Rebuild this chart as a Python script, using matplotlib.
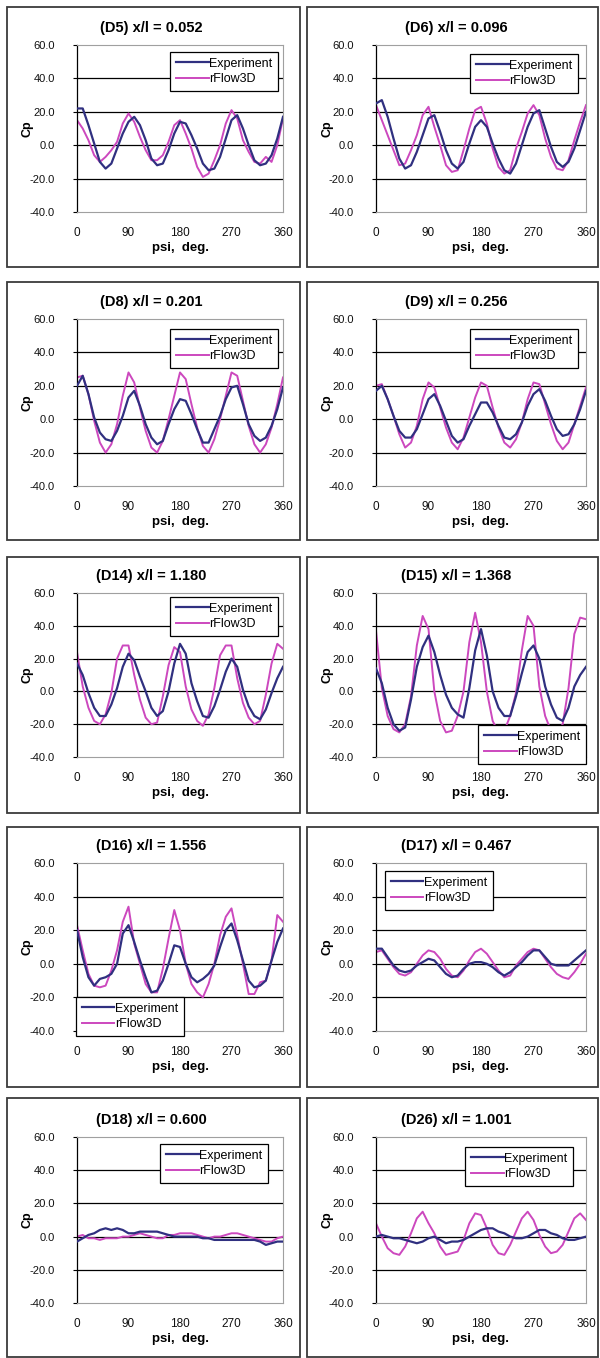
import matplotlib
matplotlib.use("Agg")
import matplotlib.pyplot as plt
from matplotlib.patches import Rectangle
import numpy as np

plt.rcParams['font.family'] = ['Liberation Sans', 'DejaVu Sans']

# ---------------- data ----------------
PSI = list(range(0, 361, 10))

TITLES = ["(D5) x/l = 0.052", "(D6) x/l = 0.096",
          "(D8) x/l = 0.201", "(D9) x/l = 0.256",
          "(D14) x/l = 1.180", "(D15) x/l = 1.368",
          "(D16) x/l = 1.556", "(D17) x/l = 0.467",
          "(D18) x/l = 0.600", "(D26) x/l = 1.001"]

SERIES_NAMES = ["Experiment", "rFlow3D"]
Y_TICKS = [-40, -20, 0, 20, 40, 60]
X_TICKS = [0, 90, 180, 270, 360]

D5_EXP = [22, 22, 12, 1, -10, -14, -11, -2, 7, 14, 17, 12, 3, -8, -12, -11, -3, 7, 14,
          13, 6, -2, -11, -15, -14, -7, 4, 15, 18, 10, 0, -9, -12, -11, -6, 4, 17]
D5_CFD = [15, 10, 3, -6, -10, -7, -3, 2, 13, 19, 14, 5, -3, -9, -9, -6, 2, 12, 15,
          7, -2, -13, -19, -17, -9, 0, 13, 21, 16, 3, -4, -10, -11, -7, -10, 0, 16]

D6_EXP = [25, 27, 17, 4, -8, -14, -12, -4, 6, 16, 18, 8, -3, -11, -14, -10, 1, 11, 15,
          11, 1, -8, -15, -17, -11, 0, 11, 19, 21, 10, -1, -10, -13, -10, -2, 9, 20]
D6_CFD = [24, 15, 6, -3, -12, -11, -3, 6, 18, 23, 11, 0, -12, -16, -15, -3, 10, 21, 23,
          13, -2, -13, -17, -15, -2, 8, 19, 24, 18, 4, -7, -14, -15, -9, 3, 14, 24]

D8_EXP = [20, 26, 15, 1, -8, -12, -13, -7, 2, 13, 17, 8, -3, -11, -15, -13, -3, 6, 12,
          11, 3, -6, -14, -14, -6, 2, 12, 19, 20, 9, -3, -10, -13, -11, -4, 6, 19]
D8_CFD = [25, 26, 15, -1, -14, -20, -15, -3, 14, 28, 22, 7, -7, -17, -20, -13, 0, 14, 28,
          24, 9, -5, -16, -20, -12, 0, 14, 28, 26, 11, -4, -15, -20, -15, -5, 9, 25]

D9_EXP = [17, 20, 12, 2, -7, -11, -11, -6, 3, 12, 15, 8, -1, -10, -14, -12, -4, 3, 10,
          10, 4, -4, -11, -12, -9, -2, 8, 15, 18, 11, 2, -6, -10, -9, -3, 6, 17]
D9_CFD = [20, 21, 12, 2, -9, -17, -14, -4, 12, 22, 19, 7, -5, -14, -18, -11, 1, 13, 22,
          20, 7, -5, -14, -17, -12, -2, 12, 22, 21, 9, -3, -13, -18, -14, -3, 8, 19]

D14_EXP = [17, 10, -1, -10, -15, -15, -8, 2, 15, 23, 19, 9, 0, -10, -15, -12, 0, 17, 29,
           23, 5, -6, -15, -16, -9, 1, 12, 20, 15, 1, -9, -15, -17, -11, -1, 8, 15]
D14_CFD = [24, 3, -10, -18, -20, -14, -1, 20, 28, 28, 10, -5, -16, -20, -19, -3, 16, 27, 24,
           3, -11, -18, -21, -14, 2, 22, 28, 28, 8, -7, -16, -20, -18, -2, 17, 29, 26]

D15_EXP = [14, 5, -10, -20, -24, -22, -5, 15, 27, 34, 24, 10, -2, -10, -14, -16, 2, 25, 38,
           22, 0, -10, -15, -15, -3, 11, 24, 28, 20, 3, -8, -16, -18, -10, 3, 10, 15]
D15_CFD = [37, 2, -15, -23, -25, -20, -3, 28, 46, 38, 0, -18, -25, -24, -15, 0, 30, 48, 30,
           0, -18, -25, -24, -15, -1, 25, 46, 40, 3, -15, -24, -25, -20, 2, 35, 45, 44]

D16_EXP = [20, 4, -8, -13, -9, -8, -6, 0, 18, 23, 13, 2, -8, -17, -16, -10, 0, 11, 10,
           0, -8, -11, -9, -6, -1, 10, 20, 24, 14, 2, -10, -14, -13, -10, 2, 13, 21]
D16_CFD = [23, 8, -6, -13, -14, -13, -4, 8, 25, 34, 12, 0, -12, -17, -17, -3, 15, 32, 20,
           0, -12, -17, -20, -12, 0, 17, 28, 33, 17, 0, -18, -18, -11, -10, 2, 29, 25]

D17_EXP = [9, 9, 4, -1, -4, -5, -4, -1, 1, 3, 2, -2, -6, -8, -7, -3, 0, 1, 1,
           0, -2, -5, -7, -5, -2, 1, 5, 8, 8, 4, 0, -1, -1, -1, 2, 5, 8]
D17_CFD = [7, 8, 3, -2, -6, -7, -5, 0, 5, 8, 7, 3, -3, -7, -8, -4, 2, 7, 9,
           6, 1, -4, -8, -7, -1, 3, 7, 9, 8, 3, -2, -6, -8, -9, -5, 0, 6]

D18_EXP = [-3, -1, 1, 2, 4, 5, 4, 5, 4, 2, 2, 3, 3, 3, 3, 2, 1, 0, 0,
           0, 0, 0, -1, -1, -2, -2, -2, -2, -2, -2, -2, -2, -3, -5, -4, -3, -3]
D18_CFD = [0, 1, -1, -1, -2, -1, -1, -1, 0, 0, 1, 2, 1, 0, -1, -1, 1, 1, 2,
           2, 2, 1, 0, -1, 0, 0, 1, 2, 2, 1, 0, -1, -2, -3, -3, -1, 0]

D26_EXP = [0, 1, 0, -1, -1, -2, -3, -4, -3, -1, 0, -2, -4, -3, -3, -2, 0, 2, 4,
           5, 5, 3, 2, 0, -1, -1, 0, 2, 4, 4, 2, 1, -1, -2, -2, -1, 0]
D26_CFD = [8, 0, -7, -10, -11, -6, 2, 11, 15, 8, 2, -6, -11, -10, -9, -2, 8, 14, 13,
           5, -5, -10, -11, -5, 3, 11, 15, 10, 1, -6, -10, -9, -5, 3, 11, 14, 10]

EXP = [D5_EXP, D6_EXP, D8_EXP, D9_EXP, D14_EXP, D15_EXP, D16_EXP, D17_EXP, D18_EXP, D26_EXP]
CFD = [D5_CFD, D6_CFD, D8_CFD, D9_CFD, D14_CFD, D15_CFD, D16_CFD, D17_CFD, D18_CFD, D26_CFD]

# ---------------- layout (pixels) ----------------
W, H = 600, 1358
C_EXP = '#303080'
C_CFD = '#CC48BE'

col_box = [(7, 300), (307, 598)]
row_box = [(7, 267), (282, 540), (557, 813), (827, 1087), (1098, 1357)]
col_ax = [(77, 283), (376, 586)]
row_ax = [(45, 212), (319, 486), (593, 757), (863, 1031), (1137, 1303)]
title_x = [151, 456]
ylab_x = [27, 327]

# legend: (loc, anchor x px, anchor y px)
LEG = [('upper right', 278, 52), ('upper right', 578, 54),
       ('upper right', 278, 329), ('upper right', 578, 329),
       ('upper right', 278, 597), ('lower right', 586, 764),
       ('lower left', 76, 1036), ('upper left', 385, 871),
       ('upper right', 268, 1144), ('upper right', 573, 1147)]

fig = plt.figure(figsize=(W / 100, H / 100), dpi=100)
fig.patch.set_facecolor('white')


def fx(p):
    return p / W


def fy(p):
    return 1 - p / H


for i in range(10):
    r, c = divmod(i, 2)
    bx0, bx1 = col_box[c]
    by0, by1 = row_box[r]
    fig.add_artist(Rectangle((fx(bx0), fy(by1)), (bx1 - bx0) / W, (by1 - by0) / H,
                             transform=fig.transFigure, fill=False,
                             ec='#3a3a3a', lw=1.3))
    ax0, ax1 = col_ax[c]
    ay0, ay1 = row_ax[r]
    ax = fig.add_axes([fx(ax0), fy(ay1), (ax1 - ax0) / W, (ay1 - ay0) / H])
    ax.set_xlim(0, 360)
    ax.set_ylim(-40, 60)
    for yv in Y_TICKS[1:-1]:
        ax.axhline(yv, color='black', lw=0.9, zorder=1)
    l1, = ax.plot(PSI, EXP[i], color=C_EXP, lw=1.6, zorder=3)
    l2, = ax.plot(PSI, CFD[i], color=C_CFD, lw=1.4, zorder=2)
    ax.set_yticks(Y_TICKS)
    ax.set_yticklabels([f"{v:.1f}" for v in Y_TICKS])
    ax.set_xticks(X_TICKS)
    ax.set_xticklabels([str(v) for v in X_TICKS])
    ax.tick_params(axis='y', direction='out', length=3, pad=13, labelsize=8,
                   labelcolor='#111111', width=0.8)
    ax.tick_params(axis='x', length=0, pad=11, labelsize=8.5, labelcolor='#111111')
    for s in ['top', 'right', 'bottom']:
        ax.spines[s].set_color('#a0a0a0')
        ax.spines[s].set_linewidth(0.8)
    ax.spines['left'].set_color('black')
    ax.spines['left'].set_linewidth(0.9)
    loc, lx, ly = LEG[i]
    leg = ax.legend([l1, l2], SERIES_NAMES, loc=loc,
                    bbox_to_anchor=(fx(lx), fy(ly)), bbox_transform=fig.transFigure,
                    fontsize=9, frameon=True, fancybox=False, framealpha=1,
                    edgecolor='black', handlelength=2.6, handletextpad=0.05,
                    borderpad=0.45, labelspacing=0.3, borderaxespad=0)
    leg.get_frame().set_linewidth(0.9)
    fig.text(fx(title_x[c]), fy(ay0 - 17), TITLES[i], ha='center', va='center',
             fontsize=10.5, fontweight='bold')
    fig.text(fx(ylab_x[c]), fy((ay0 + ay1) / 2), 'Cp', ha='center', va='center',
             rotation=90, fontsize=9, fontweight='bold')
    fig.text(fx((ax0 + ax1) / 2), fy(ay1 + 36), 'psi,  deg.', ha='center', va='center',
             fontsize=9.5, fontweight='bold')

fig.savefig('out.png', dpi=100, facecolor='white')
